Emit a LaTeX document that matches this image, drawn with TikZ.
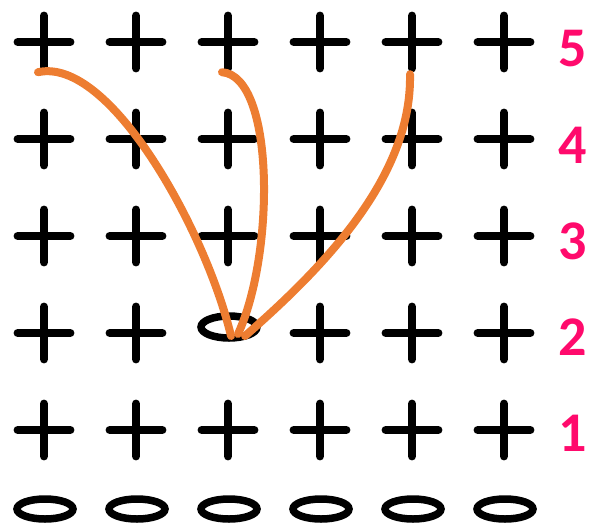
\documentclass[tikz,border=0pt]{standalone}
\usepackage{fontspec}
\setmainfont{Carlito}
\usepackage{tikz}
\usetikzlibrary{positioning,shapes.geometric}
\definecolor{yarn}{HTML}{ED7D31}
\definecolor{rownum}{HTML}{FF0A6C}

\begin{document}
\begin{tikzpicture}[
    x=1pt, y=-1pt,
    sc/.style={minimum size=52pt, inner sep=0pt},
    ch/.style={ellipse, draw=black, line width=7.5pt, minimum width=56pt,
               minimum height=20pt, inner sep=0pt},
    cross/.style={line width=8.5pt, line cap=round},
    loopline/.style={draw=yarn, line width=8pt, line cap=round},
    rowlbl/.style={text=rownum, font=\bfseries\fontsize{56}{60}\selectfont, inner sep=0pt},
  ]
    \useasboundingbox (0,0) rectangle (593,528);
    % foundation chain
    \foreach \c in {1,...,6}
      \node[ch] (ch\c) at ({45+92*(\c-1)},509) {};
    % rows of stitches
    \foreach \r in {1,...,5}{
      \foreach \c in {1,...,6}{
        \ifnum\r\c=23
          \node[ch, minimum height=22pt] (s\r\c) at ({45+92*(\c-1)},327) {};
        \else
          \node[sc] (s\r\c) at ({44+92*(\c-1)},{42+97*(5-\r)}) {};
          \draw[cross] (s\r\c.north) -- (s\r\c.south) (s\r\c.west) -- (s\r\c.east);
        \fi
      }
      \node[rowlbl] (lbl\r) at (573,{49+96*(5-\r)}) {\r};
    }

    \draw[loopline] ([xshift=-6pt,yshift=-4pt]s51.south)
      .. controls +(72,-16) and +(-25,-105) .. ([xshift=2pt,yshift=-9pt]s23.center);
    \draw[loopline] ([xshift=-6pt,yshift=-4pt]s53.south)
      .. controls +(53,4) and +(37,-80) .. ([xshift=9pt,yshift=-7pt]s23.center);
    \draw[loopline] ([xshift=-2pt,yshift=-6pt]s55.south)
      .. controls +(2,102) and +(80,-70) .. ([xshift=16pt,yshift=-9pt]s23.center);
  \end{tikzpicture}
\end{document}
